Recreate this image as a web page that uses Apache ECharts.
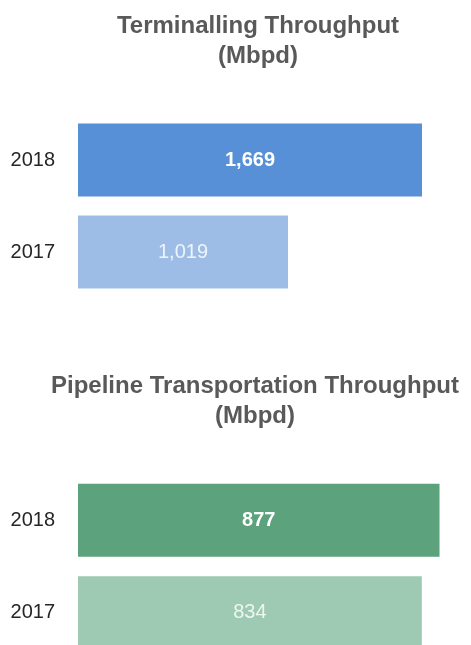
<!DOCTYPE html>
<html>
<head>
<meta charset="utf-8">
<script src="https://cdn.jsdelivr.net/npm/echarts@6/dist/echarts.min.js"></script>
<style>
  html, body { margin: 0; padding: 0; background: #fff; }
  #chart { width: 471px; height: 645px; }
</style>
</head>
<body>
<div id="chart"></div>
<script>
// data
var years = ['2018', '2017']
var terminalling = [1669, 1019]
var pipeline = [877, 834]

var font = '"Liberation Sans", Arial, sans-serif'

function barItems(values, colors, labelStyles) {
  return values.map(function(v, i) {
    return {
      value: v,
      itemStyle: { color: colors[i] },
      label: labelStyles[i]
    }
  })
}

var strongLabel = { color: '#ffffff', fontWeight: 'bold' }
var titleStyle = { fontFamily: font, fontSize: 24, fontWeight: 'bold', color: '#595959', lineHeight: 30, align: 'center' }

var chart = echarts.init(document.getElementById('chart'))
chart.setOption({
  animation: false,
  title: [{
    text: 'Terminalling Throughput\n(Mbpd)',
    left: 253,
    top: 6,
    textAlign: 'center',
    textStyle: titleStyle
  }, {
    text: 'Pipeline Transportation Throughput\n(Mbpd)',
    left: 250,
    top: 366,
    textAlign: 'center',
    textStyle: titleStyle
  }],
  grid: [
    { left: 78, right: 22, top: 114, bottom: 347, outerBoundsMode: 'none' },
    { left: 78, right: 22, top: 474, bottom: -14, outerBoundsMode: 'none' }
  ],
  xAxis: [
    { gridIndex: 0, type: 'value', min: 0, max: 1800, show: false },
    { gridIndex: 1, type: 'value', min: 0, max: 900, show: false }
  ],
  yAxis: [0, 1].map(function(i) {
    return {
      gridIndex: i,
      type: 'category',
      data: years,
      inverse: true,
      axisLine: { show: false },
      axisTick: { show: false },
      axisLabel: { margin: 23, fontFamily: font, fontSize: 20, color: '#262626' }
    }
  }),
  series: [{
    type: 'bar',
    xAxisIndex: 0,
    yAxisIndex: 0,
    barWidth: 73,
    label: { show: true, position: 'inside', fontFamily: font, fontSize: 20,
      formatter: function(p) { return p.value.toLocaleString('en-US') } },
    data: barItems(terminalling, ['#5790d6', '#9dbde7'], [strongLabel, { color: '#eef4fb', fontWeight: 'normal' }])
  }, {
    type: 'bar',
    xAxisIndex: 1,
    yAxisIndex: 1,
    barWidth: 73,
    label: { show: true, position: 'inside', fontFamily: font, fontSize: 20,
      formatter: function(p) { return p.value.toLocaleString('en-US') } },
    data: barItems(pipeline, ['#5ca27d', '#9ec9b2'], [strongLabel, { color: '#eef6f1', fontWeight: 'normal' }])
  }]
})
</script>
</body>
</html>
